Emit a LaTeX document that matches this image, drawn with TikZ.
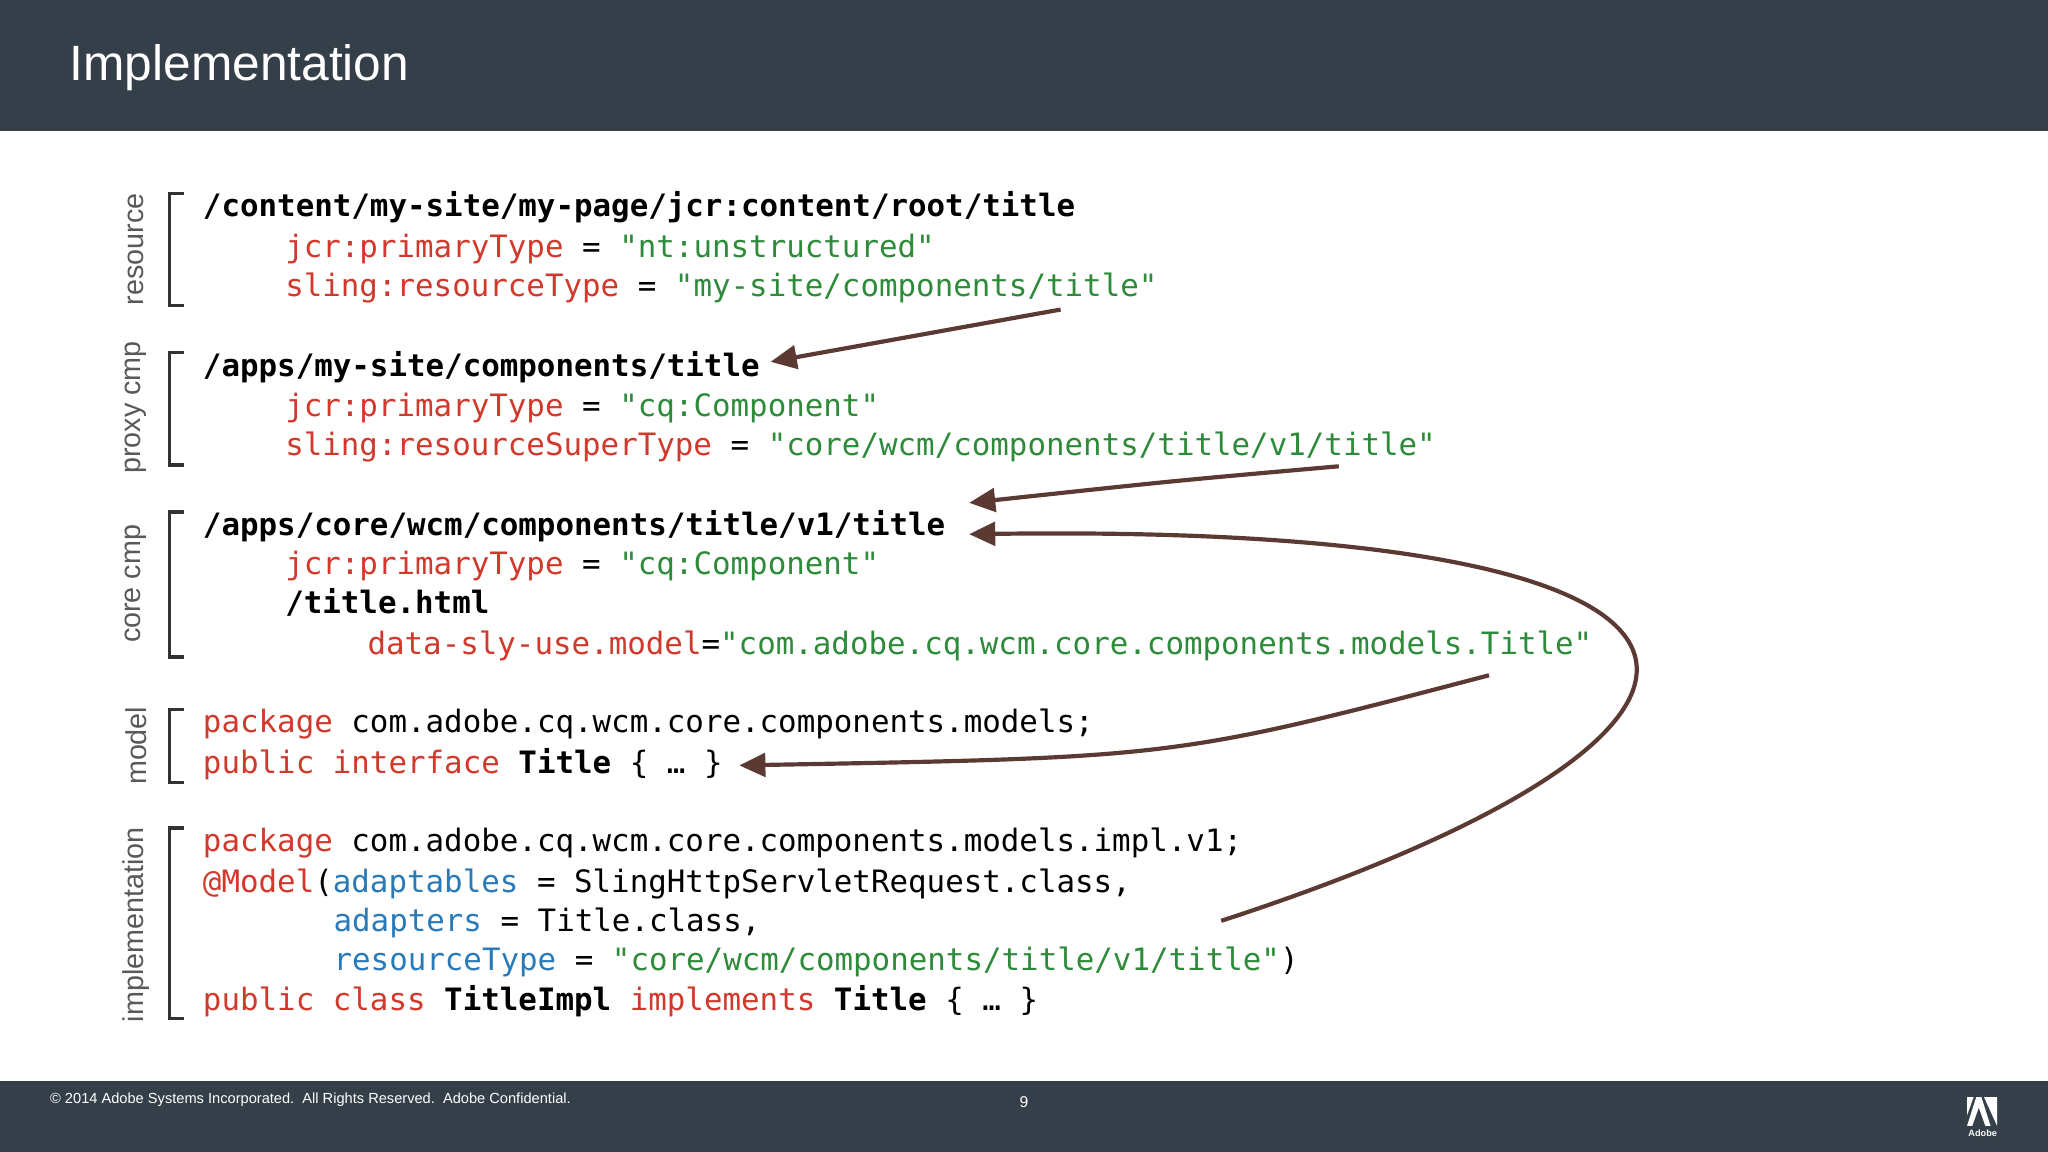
\documentclass[tikz,border=0pt]{standalone}
\usepackage{fontspec}
\setmainfont{Liberation Sans}
\setmonofont{DejaVu Sans Mono}
\usetikzlibrary{arrows.meta}
\definecolor{bar}{HTML}{353F49}
\definecolor{kred}{HTML}{D0392B}
\definecolor{kgreen}{HTML}{2E8B3A}
\definecolor{kblue}{HTML}{2A7AB8}
\definecolor{arr}{HTML}{5A3A33}
\newcommand{\R}[1]{\textcolor{kred}{#1}}
\newcommand{\G}[1]{\textcolor{kgreen}{#1}}
\newcommand{\B}[1]{\textcolor{kblue}{#1}}
\begin{document}
\begin{tikzpicture}[x=0.5pt,y=-0.5pt,
  code/.style={anchor=base west,inner sep=0,font=\ttfamily\fontsize{11.8}{14}\selectfont},
  lab/.style={rotate=90,inner sep=0,font=\fontsize{11}{13}\selectfont,text=black!65},
  brk/.style={line width=1.3pt,black!80},
  ar/.style={draw=arr,line width=1.6pt,-{Triangle[length=10pt,width=9pt]}}]
\useasboundingbox (0,0) rectangle (1568,882);
\fill[white] (0,0) rectangle (1568,882);
\fill[bar] (0,0) rectangle (1568,100);
\fill[bar] (0,828) rectangle (1568,882);
\node[anchor=west,inner sep=0,text=white,font=\fontsize{19}{23}\selectfont] (title) at (53,52) {Implementation};
\node[anchor=west,inner sep=0,text=white,font=\fontsize{5.6}{7}\selectfont] (copy) at (38,842) {© 2014 Adobe Systems Incorporated.\ \ All Rights Reserved.\ \ Adobe Confidential.};
\node[text=white,font=\fontsize{6}{7}\selectfont] (pg) at (784,844) {9};
\fill[white] (1506,862) -- (1513,840) -- (1517,840) -- (1524,862) -- (1520,862) -- (1515,848) -- (1510,862) -- cycle;
\fill[white] (1519,840) -- (1529,840) -- (1529,862) -- cycle;
\fill[white] (1506,840) -- (1511,840) -- (1506,854) -- cycle;
\node[text=white,font=\bfseries\fontsize{3.5}{4}\selectfont] (logo) at (1518,868) {Adobe};
% brackets
\foreach \a/\b in {148/234,270/356,392/503,543/599,634/780}{
  \draw[brk] (141,\a) -- (130,\a) -- (130,\b) -- (141,\b);}
\node[lab] (l1) at (104,191) {resource};
\node[lab] (l2) at (104,312) {proxy cmp};
\node[lab] (l3) at (104,447) {core cmp};
\node[lab] (l4) at (104,571) {model};
\node[lab] (l5) at (104,708) {implementation};
% code
\node[code] (c1) at (155,166) {\textbf{/content/my-site/my-page/jcr:content/root/title}};
\node[code] (c2) at (218,197) {\R{jcr:primaryType} = \G{"nt:unstructured"}};
\node[code] (c3) at (218,227) {\R{sling:resourceType} = \G{"my-site/components/title"}};
\node[code] (c4) at (155,288) {\textbf{/apps/my-site/components/title}};
\node[code] (c5) at (218,319) {\R{jcr:primaryType} = \G{"cq:Component"}};
\node[code] (c6) at (218,349) {\R{sling:resourceSuperType} = \G{"core/wcm/components/title/v1/title"}};
\node[code] (c7) at (155,410) {\textbf{/apps/core/wcm/components/title/v1/title}};
\node[code] (c8) at (218,440) {\R{jcr:primaryType} = \G{"cq:Component"}};
\node[code] (c9) at (218,470) {\textbf{/title.html}};
\node[code] (c10) at (281,501) {\R{data-sly-use.model}=\G{"com.adobe.cq.wcm.core.components.models.Title"}};
\node[code] (c11) at (155,561) {\R{package} com.adobe.cq.wcm.core.components.models;};
\node[code] (c12) at (155,592) {\R{public interface} \textbf{Title} \{ … \}};
\node[code] (c13) at (155,652) {\R{package} com.adobe.cq.wcm.core.components.models.impl.v1;};
\node[code] (c14) at (155,683) {\R{@Model}(\B{adaptables} = SlingHttpServletRequest.class,};
\node[code] (c15) at (255,713) {\B{adapters} = Title.class,};
\node[code] (c16) at (255,743) {\B{resourceType} = \G{"core/wcm/components/title/v1/title"})};
\node[code] (c17) at (155,774) {\R{public class} \textbf{TitleImpl} \R{implements} \textbf{Title} \{ … \}};
% arrows
\coordinate (s1) at (812,237); \coordinate (e1) at (590,277);
\coordinate (s2) at (1025,357); \coordinate (e2) at (742,385);
\coordinate (s3) at (935,705); \coordinate (e3) at (742,409);
\coordinate (s4) at (1140,517); \coordinate (e4) at (566,586);
\draw[ar] (s1) -- (e1);
\draw[ar] (s2) .. controls (900,368) .. (e2);
\draw[ar] (s3) .. controls (1380,560) and (1390,400) .. (e3);
\draw[ar] (s4) .. controls (900,580) .. (e4);
\end{tikzpicture}
\end{document}
